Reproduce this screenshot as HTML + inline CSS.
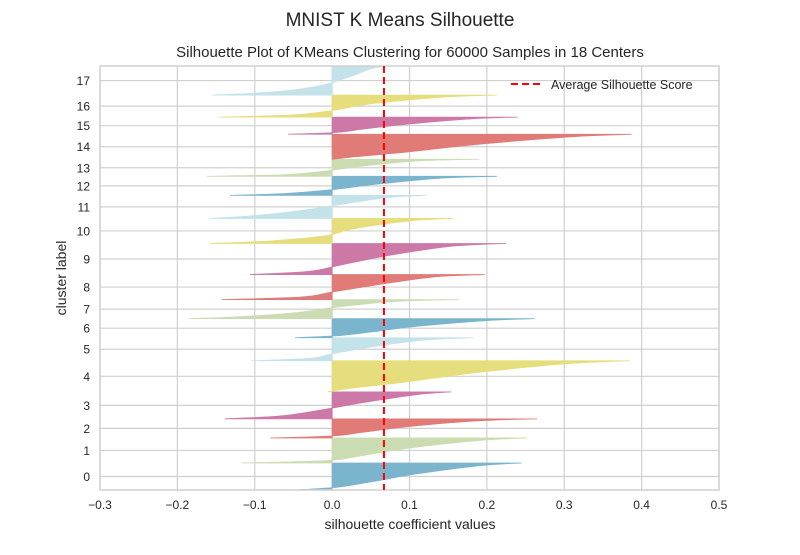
<!DOCTYPE html>
<html><head><meta charset="utf-8"><style>
body{margin:0;background:#fff;font-family:"Liberation Sans",sans-serif}
svg text{font-family:"Liberation Sans",sans-serif;fill:#262626}
</style></head><body>
<svg id="chart" width="800" height="550" xmlns="http://www.w3.org/2000/svg">
<text x="400" y="26" text-anchor="middle" font-size="19">MNIST K Means Silhouette</text>
<text x="410" y="57" text-anchor="middle" font-size="15">Silhouette Plot of KMeans Clustering for 60000 Samples in 18 Centers</text>
<g id="grid"></g><g id="marks"></g><g id="axes"></g>
<text x="410" y="529" text-anchor="middle" font-size="14">silhouette coefficient values</text>
<text transform="translate(66,278) rotate(-90)" text-anchor="middle" font-size="14">cluster label</text>
</svg>
<script>
const clusterSizes=[3800,3520,2680,3800,4370,3240,2680,2680,3520,4370,3520,3240,2680,2400,3520,2400,3100,4090];
const fracs=[0,0.1,0.3,0.6,0.9,1];
const q0=[-0.048,0.005,0.05,0.11,0.19,0.245];
const q1=[-0.117,-0.005,0.04,0.10,0.19,0.252];
const q2=[-0.08,0.0,0.04,0.10,0.19,0.265];
const q3=[-0.139,-0.07,-0.02,0.04,0.11,0.154];
const q4=[-0.006,0.02,0.09,0.18,0.30,0.385];
const q5=[-0.105,-0.03,0.0,0.05,0.12,0.182];
const q6=[-0.048,0.005,0.05,0.11,0.20,0.262];
const q7=[-0.185,-0.12,-0.05,0.005,0.08,0.164];
const q8=[-0.143,-0.04,0.0,0.06,0.13,0.197];
const q9=[-0.106,-0.03,0.01,0.07,0.15,0.225];
const q10=[-0.158,-0.08,-0.01,0.03,0.10,0.156];
const q11=[-0.158,-0.11,-0.05,0.01,0.07,0.121];
const q12=[-0.132,-0.06,0.0,0.06,0.14,0.213];
const q13=[-0.162,-0.06,-0.01,0.04,0.11,0.19];
const q14=[0.0,0.03,0.10,0.19,0.31,0.387];
const q15=[-0.057,0.005,0.04,0.10,0.18,0.24];
const q16=[-0.146,-0.05,0.0,0.05,0.14,0.213];
const q17=[-0.155,-0.08,-0.02,0.02,0.05,0.07];
const quantiles=[q0,q1,q2,q3,q4,q5,q6,q7,q8,q9,q10,q11,q12,q13,q14,q15,q16,q17];
const avgScore=0.067;
const xTicks=[-0.3,-0.2,-0.1,0.0,0.1,0.2,0.3,0.4,0.5];
const colors=["#7ab4cd","#ccdcb2","#e07b78","#cc79a8","#e6dd7d","#c3e2ea"];
const X0=100,X1=719,Y0=490,Y1=66;
const total=clusterSizes.reduce((a,b)=>a+b,0);
const xs=v=>X0+(v+0.3)/0.8*(X1-X0);
const ys=v=>Y0-v/total*(Y0-Y1);
const NS="http://www.w3.org/2000/svg";
function mk(tag,attrs,parent){const e=document.createElementNS(NS,tag);for(const k in attrs)e.setAttribute(k,attrs[k]);document.getElementById(parent).appendChild(e);return e;}
// x grid
xTicks.forEach(t=>{
 const l=mk('line',{x1:xs(t),x2:xs(t),y1:Y1,y2:Y0,stroke:'#d0d0d0','stroke-width':1.2},'grid');
 
 
 const tx=mk('text',{x:xs(t),y:Y0+19,'text-anchor':'middle','font-size':12},'axes');
 tx.textContent=t.toFixed(1).replace('-','\u2212');
 
 
});
let lower=0;
clusterSizes.forEach((n,i)=>{
 const upper=lower+n, mid=lower+n/2;
 const g=mk('line',{x1:X0,x2:X1,y1:ys(mid),y2:ys(mid),stroke:'#d0d0d0','stroke-width':1.2},'grid');
 
 
 const tl=mk('text',{x:X0-10,y:ys(mid)+4.5,'text-anchor':'end','font-size':12},'axes');
 tl.textContent=String(i);
 
 
 const q=quantiles[i];
 let pts=[[xs(0),ys(lower)]];
 // smooth curve through quantile points
 let d='M'+xs(0)+','+ys(lower);
 const P=fracs.map((f,k)=>[xs(q[k]),ys(lower+f*n)]);
 d+=' L'+P[0][0]+','+P[0][1];
 for(let k=0;k<P.length-1;k++){
  const p0=P[Math.max(k-1,0)],p1=P[k],p2=P[k+1],p3=P[Math.min(k+2,P.length-1)];
  const c1=[p1[0]+(p2[0]-p0[0])/6,p1[1]+(p2[1]-p0[1])/6];
  const c2=[p2[0]-(p3[0]-p1[0])/6,p2[1]-(p3[1]-p1[1])/6];
  d+=` C${c1[0]},${c1[1]} ${c2[0]},${c2[1]} ${p2[0]},${p2[1]}`;
 }
 d+=` L${xs(0)},${ys(upper)} Z`;
 const c=colors[i%6];
 const p=mk('path',{d:d,fill:c,stroke:c,'stroke-width':0.8},'marks');
 
 
 lower=upper;
});
const fr=mk('rect',{x:X0,y:Y1,width:X1-X0,height:Y0-Y1,fill:'none',stroke:'#d0d0d0','stroke-width':1.5},'axes');


const av=mk('line',{x1:xs(avgScore),x2:xs(avgScore),y1:Y1,y2:Y0,stroke:'#ff0000','stroke-width':2,'stroke-dasharray':'7,4'},'axes');


const ll=mk('line',{x1:511,x2:540,y1:84,y2:84,stroke:'#ff0000','stroke-width':2,'stroke-dasharray':'7,4'},'axes');


const lt=mk('text',{x:551,y:89,'font-size':12.5},'axes');
lt.textContent='Average Silhouette Score';


</script>
</body></html>
